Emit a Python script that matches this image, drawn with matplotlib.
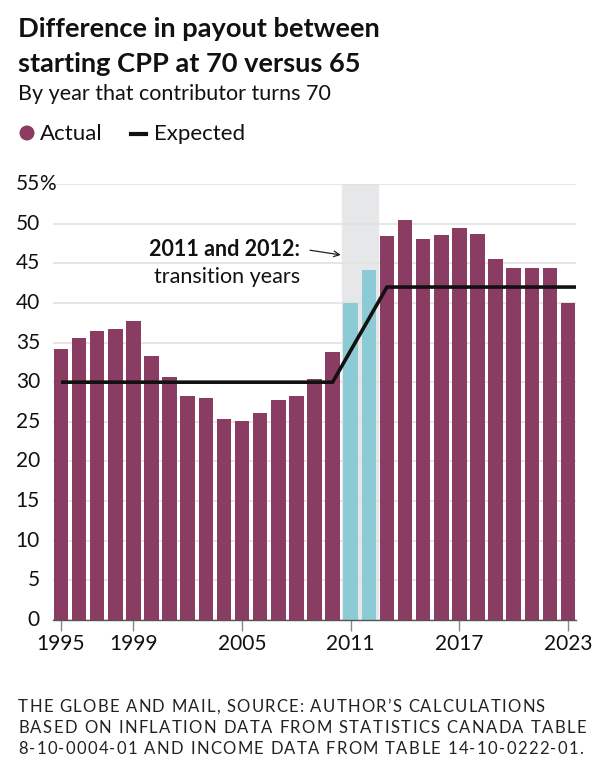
import numpy as np
import matplotlib.pyplot as plt
from matplotlib.patches import Ellipse
from matplotlib.font_manager import FontProperties

plt.rcParams['font.family'] = ['Lato', 'DejaVu Sans']

years = list(range(1995, 2024))
actual = [34.2, 35.6, 36.4, 36.7, 37.7, 33.3, 30.6, 28.3, 28.0, 25.3,
          25.1, 26.1, 27.8, 28.3, 30.4, 33.8, 40.0, 44.1, 48.4, 50.5,
          48.1, 48.6, 49.4, 48.7, 45.6, 44.4, 44.4, 44.4, 40.0]
transition_years = [2011, 2012]
exp_years = [1995, 2010, 2011, 2012, 2013, 2023.44]
expected = [30, 30, 34, 38, 42, 42]
yticks = [0, 5, 10, 15, 20, 25, 30, 35, 40, 45, 50, 55]
xticks = [1995, 1999, 2005, 2011, 2017, 2023]
footer = ['THE GLOBE AND MAIL, SOURCE: AUTHOR\u2019S CALCULATIONS',
          'BASED ON INFLATION DATA FROM STATISTICS CANADA TABLE',
          '8-10-0004-01 AND INCOME DATA FROM TABLE 14-10-0222-01.']
footer_right = [545, 586, 583]   # px where each footer line ends

maroon = '#8a3c62'
teal = '#8ccad6'
ink = '#111111'

W, H = 600, 777
fig = plt.figure(figsize=(6, 7.77), dpi=100)
ax = fig.add_axes([53/W, 1-620/H, (576-53)/W, (620-184)/H])

colors = [teal if y in transition_years else maroon for y in years]
ax.axvspan(2010.5, 2012.5, color='#e6e7e9', zorder=0)
ax.bar(years, actual, width=0.8, color=colors, zorder=2)
ax.plot(exp_years, expected, color=ink, lw=2.6, zorder=3, solid_capstyle='butt')

ax.set_xlim(1994.56, 2023.44)
ax.set_ylim(0, 55)
for v in yticks:
    ax.axhline(v, color='#e2e2e2', lw=1.2, zorder=1)
ax.set_yticks([])
for s in ['top', 'right', 'left']:
    ax.spines[s].set_visible(False)
ax.spines['bottom'].set_color('#555555')
ax.spines['bottom'].set_linewidth(1.0)
ax.spines['bottom'].set_zorder(4)
ax.set_xticks(xticks)
ax.set_xticklabels([str(x) for x in xticks], fontsize=15, color=ink)
ax.tick_params(axis='x', length=8, width=1, color='#888888', pad=2)

for v in yticks:
    y = 1 - (620 - v / 55 * (620-184)) / H
    fig.text(40/W, y, str(v), ha='right', va='center', fontsize=15, color=ink)
fig.text(39/W, 1-184/H, '%', ha='left', va='center', fontsize=15, color=ink)

# annotation
ax.text(2008.2, 46.8, '2011 and 2012:', ha='right', va='center', fontsize=15.5,
        fontweight='bold', color=ink, zorder=5)
ax.text(2008.2, 43.3, 'transition years', ha='right', va='center', fontsize=15.5,
        color=ink, zorder=5)
ax.annotate('', xy=(2010.6, 46.0), xytext=(2008.6, 46.7),
            arrowprops=dict(arrowstyle='->', color='#222222', lw=0.9), zorder=5)

# titles
fig.text(18/W, 1-37/H, 'Difference in payout between', fontsize=19.6, fontweight='bold',
         ha='left', va='baseline', color=ink)
fig.text(18/W, 1-72/H, 'starting CPP at 70 versus 65', fontsize=19.6, fontweight='bold',
         ha='left', va='baseline', color=ink)
fig.text(18/W, 1-100/H, 'By year that contributor turns 70', fontsize=15.5,
         ha='left', va='baseline', color=ink)

# legend
fig.patches.append(Ellipse((27/W, 1-133/H), 15/W, 15/H, transform=fig.transFigure,
                           facecolor=maroon, edgecolor='none'))
fig.text(40/W, 1-140/H, 'Actual', fontsize=16, ha='left', va='baseline', color=ink)
fig.lines.append(plt.Line2D([131/W, 146/W], [1-134/H, 1-134/H], transform=fig.transFigure,
                            color=ink, lw=3))
fig.text(154/W, 1-140/H, 'Expected', fontsize=16, ha='left', va='baseline', color=ink)

# footer with letter spacing
r = fig.canvas.get_renderer()
fp = FontProperties(family=['Lato', 'DejaVu Sans'], size=12)


def text_w(s):
    return r.get_text_width_height_descent(s, fp, ismath=False)[0]


bar_w = text_w('|')
for i, line in enumerate(footer):
    natural = text_w(line + '|') - bar_w
    track = (footer_right[i] - 18 - natural) / (len(line) - 1)
    for k, ch in enumerate(line):
        if ch == ' ':
            continue
        pos = (text_w(line[:k] + '|') - bar_w) if k else 0
        fig.text((18 + pos + track * k)/W, 1-(712+21*i)/H, ch, fontproperties=fp,
                 ha='left', va='baseline', color='#222222')

fig.savefig('out.png', dpi=100, facecolor='white')
plt.close(fig)
